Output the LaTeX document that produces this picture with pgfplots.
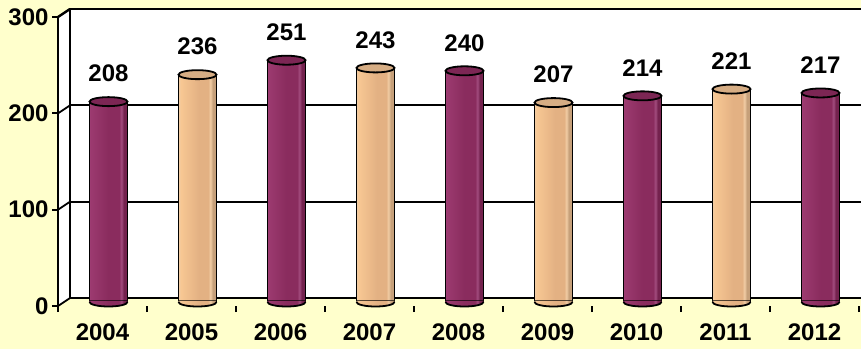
\documentclass[border=0pt]{standalone}
\usepackage{pgfplots}
\usepackage{pgfplotstable}
\pgfplotsset{compat=1.18}
\usepackage{fontspec}
\setmainfont{Liberation Sans}

\definecolor{bgyel}{HTML}{FFFFCC}
\definecolor{pu1}{HTML}{B4558E}
\definecolor{pu2}{HTML}{9C3A70}
\definecolor{pu3}{HTML}{8A2C5E}
\definecolor{pu4}{HTML}{74224E}
\definecolor{pu5}{HTML}{5C1A3E}
\definecolor{pus}{HTML}{A24C7E}
\definecolor{putop}{HTML}{7C2654}
\definecolor{pe1}{HTML}{FFDAAC}
\definecolor{pe2}{HTML}{F7C793}
\definecolor{pe3}{HTML}{E3B183}
\definecolor{pe4}{HTML}{C6A07A}
\definecolor{pe5}{HTML}{A88A6C}
\definecolor{pes}{HTML}{F0CCA4}
\definecolor{petop}{HTML}{D6AD84}

\pgfdeclarehorizontalshading{purpcyl}{100bp}{color(0bp)=(pu1); color(15bp)=(pu2); color(20bp)=(pu2); color(23bp)=(pus); color(26bp)=(pu2); color(50bp)=(pu3); color(64bp)=(pu3); color(67bp)=(pus); color(70bp)=(pu4); color(82bp)=(pu4); color(100bp)=(pu5)}
\pgfdeclarehorizontalshading{peachcyl}{100bp}{color(0bp)=(pe1); color(18bp)=(pe2); color(22bp)=(pe2); color(25bp)=(pes); color(28bp)=(pe2); color(52bp)=(pe3); color(64bp)=(pe3); color(67bp)=(pes); color(70bp)=(pe4); color(82bp)=(pe4); color(100bp)=(pe5)}

% top of a cylinder
\pgfdeclareplotmark{cyltop}{%
  \pgfpathellipse{\pgfpointorigin}{\pgfqpoint{19pt}{0pt}}{\pgfqpoint{0pt}{4.5pt}}%
  \pgfusepathqfillstroke}
% rounded bottom of a cylinder
\pgfdeclareplotmark{purpbot}{%
  \path[shade,shading=purpcyl] (-19pt,1.4pt) -- (-19pt,0pt) arc[start angle=180,end angle=360,x radius=19pt,y radius=4.5pt] -- (19pt,1.4pt) -- cycle;
  \draw[line width=1.8pt] (-19pt,0pt) arc[start angle=180,end angle=360,x radius=19pt,y radius=4.5pt];}
\pgfdeclareplotmark{peachbot}{%
  \path[shade,shading=peachcyl] (-19pt,1.4pt) -- (-19pt,0pt) arc[start angle=180,end angle=360,x radius=19pt,y radius=4.5pt] -- (19pt,1.4pt) -- cycle;
  \draw[line width=1.8pt] (-19pt,0pt) arc[start angle=180,end angle=360,x radius=19pt,y radius=4.5pt];}

\pgfplotstableread{
x v
0 208
2 251
4 240
6 214
8 217
}\purpdata
\pgfplotstableread{
x v
1 236
3 243
5 207
7 221
}\peachdata

\newcommand{\lblfont}{\bfseries\fontsize{24}{24}\selectfont}

\begin{document}
\begin{tikzpicture}
\useasboundingbox (0,0) rectangle (861pt,349pt);
\fill[bgyel] (0,0) rectangle (861pt,349pt);
\clip (0,0) rectangle (861pt,349pt);

% back wall
\begin{axis}[
  at={(70pt,51pt)}, anchor=south west,
  scale only axis, width=801pt, height=289pt,
  xmin=-0.5, xmax=8.5, ymin=0, ymax=300,
  axis background/.style={fill=white},
  xtick=\empty, ytick={100,200}, yticklabels={},
  major tick length=0pt,
  ymajorgrids, grid style={black, line width=1.8pt},
  axis line style={black, line width=2.4pt},
  axis on top, clip=false]
\fill[white] (axis cs:-0.5,0) -- (axis cs:-0.5,300) -- ++(-12pt,-8pt) -- ++(0pt,-289pt) -- cycle;
\draw[line width=1.8pt] (axis cs:-0.5,0) -- ++(-12pt,-8pt);
\draw[line width=1.8pt] (axis cs:-0.5,100) -- ++(-12pt,-8pt);
\draw[line width=1.8pt] (axis cs:-0.5,200) -- ++(-12pt,-8pt);
\draw[line width=2.4pt] (axis cs:-0.5,300) -- ++(-12pt,-8pt);
\end{axis}

% cylinders, one plot per bar so each gets its own shading
\begin{axis}[
  at={(64pt,47pt)}, anchor=south west,
  scale only axis, width=801pt, height=289pt,
  xmin=-0.5, xmax=8.5, ymin=0, ymax=300,
  hide axis, clip=false,
  /pgf/number format/assume math mode=true,
  cyl/.style={ybar, bar width=38pt, bar shift=0pt, draw=black, line width=1.8pt, shade}]
\pgfplotsinvokeforeach{0,2,4,6,8}{
  \addplot[cyl, shading=purpcyl, restrict x to domain=#1:#1] table[x=x, y=v] {\purpdata};
}
\pgfplotsinvokeforeach{1,3,5,7}{
  \addplot[cyl, shading=peachcyl, restrict x to domain=#1:#1] table[x=x, y=v] {\peachdata};
}
\addplot[only marks, mark=purpbot] table[x=x, y expr=0] {\purpdata};
\addplot[only marks, mark=peachbot] table[x=x, y expr=0] {\peachdata};
\addplot[only marks, mark=cyltop, mark options={fill=putop, draw=black, line width=1.8pt},
  nodes near coords, nodes near coords style={font=\lblfont, text=black, anchor=center, yshift=28pt}]
  table[x=x, y=v] {\purpdata};
\addplot[only marks, mark=cyltop, mark options={fill=petop, draw=black, line width=1.8pt},
  nodes near coords, nodes near coords style={font=\lblfont, text=black, anchor=center, yshift=28pt}]
  table[x=x, y=v] {\peachdata};
\end{axis}

% front axis
\begin{axis}[
  at={(58pt,43pt)}, anchor=south west,
  scale only axis, width=801pt, height=289pt,
  xmin=-0.5, xmax=8.5, ymin=0, ymax=300,
  axis x line*=bottom, axis y line*=left,
  x axis line style={draw=none},
  y axis line style={-, black, line width=2.4pt},
  tick style={black, line width=1.8pt},
  tick align=outside, major tick length=6pt,
  xtick={-0.5,0.5,...,8.5}, xticklabels={},
  extra x ticks={0,1,...,8},
  extra x tick labels={2004,2005,2006,2007,2008,2009,2010,2011,2012},
  extra x tick style={major tick length=0pt, xticklabel style={yshift=-14pt}},
  ytick={0,100,200,300}, yticklabels={0,100,200,300},
  ticklabel style={font=\lblfont, text=black},
  clip=false]
\end{axis}
\end{tikzpicture}
\end{document}
